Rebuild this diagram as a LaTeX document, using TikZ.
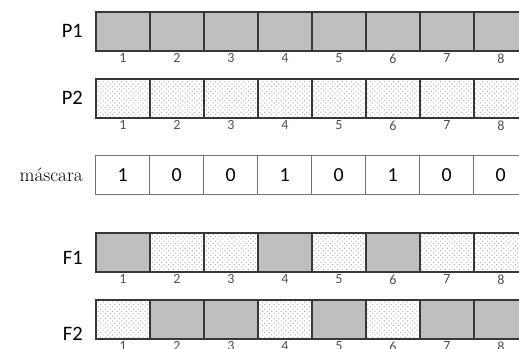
\documentclass[tikz,border=0pt]{standalone}
\usepackage{fontspec}
\newfontfamily\carlito{Carlito}
\usetikzlibrary{positioning,patterns}

\definecolor{cellgray}{RGB}{191,191,191}
\definecolor{celledge}{RGB}{55,55,55}
\definecolor{maskedge}{RGB}{115,115,115}
\definecolor{numgray}{RGB}{80,80,80}

% staggered dot fill, a little sparser than the built-in one
\pgfdeclarepatternformonly{sparsedots}{\pgfqpoint{-1pt}{-1pt}}{\pgfqpoint{5pt}{5pt}}{\pgfqpoint{4pt}{4pt}}{
  \pgfpathcircle{\pgfqpoint{0pt}{0pt}}{0.55pt}
  \pgfpathcircle{\pgfqpoint{2pt}{2pt}}{0.55pt}
  \pgfusepath{fill}
}

\tikzset{
  cellbox/.style={draw=celledge, line width=1.4pt, minimum width=1.62cm, minimum height=1.17cm, inner sep=0pt, anchor=north west},
  grayfill/.style={cellbox, fill=cellgray},
  dotfill/.style={cellbox, pattern=sparsedots, pattern color=black!35},
  maskcell/.style={cellbox, draw=maskedge, line width=1.1pt, font=\carlito\fontsize{17}{20}\selectfont},
  rowlabel/.style={inner sep=0pt, font=\carlito\fontsize{17.5}{20}\selectfont, left=0.36cm of #1},
  cellnum/.style={inner sep=0pt, anchor=north, yshift=-0.06cm, text=numgray, font=\carlito\fontsize{12}{13}\selectfont}
}

\begin{document}
\begin{tikzpicture}[x=0.03cm, y=-0.03cm]
  \useasboundingbox (0,0) rectangle (519,349);
  \clip (0,0) rectangle (519,349);

  % parent 1
  \foreach \i in {1,...,8} {
    \node[grayfill] (p1-\i) at ({95+54*(\i-1)},11) {};
    \node[cellnum] (p1n-\i) at (p1-\i.south) {\i};
  }
  \node[rowlabel=p1-1] (lp1) {P1};

  % parent 2
  \foreach \i in {1,...,8} {
    \node[dotfill] (p2-\i) at ({95+54*(\i-1)},78) {};
    \node[cellnum] (p2n-\i) at (p2-\i.south) {\i};
  }
  \node[rowlabel=p2-1] (lp2) {P2};

  % mask
  \foreach \b [count=\i] in {1,0,0,1,0,1,0,0}
    \node[maskcell] (m-\i) at ({95+54*(\i-1)},155) {\b};
  \node[rowlabel=m-1, font=\fontsize{16.5}{18}\selectfont] (lm) {máscara};

  % children
  \foreach \s [count=\i] in {grayfill,dotfill,dotfill,grayfill,dotfill,grayfill,dotfill,dotfill} {
    \node[style=\s] (f1-\i) at ({95+54*(\i-1)},232) {};
    \node[cellnum] (f1n-\i) at (f1-\i.south) {\i};
  }
  \node[rowlabel=f1-1, yshift=-0.18cm] (lf1) {F1};

  \foreach \s [count=\i] in {dotfill,grayfill,grayfill,dotfill,grayfill,dotfill,grayfill,grayfill} {
    \node[style=\s] (f2-\i) at ({95+54*(\i-1)},299) {};
    \node[cellnum] (f2n-\i) at (f2-\i.south) {\i};
  }
  \node[rowlabel=f2-1, yshift=-0.45cm] (lf2) {F2};
\end{tikzpicture}
\end{document}
